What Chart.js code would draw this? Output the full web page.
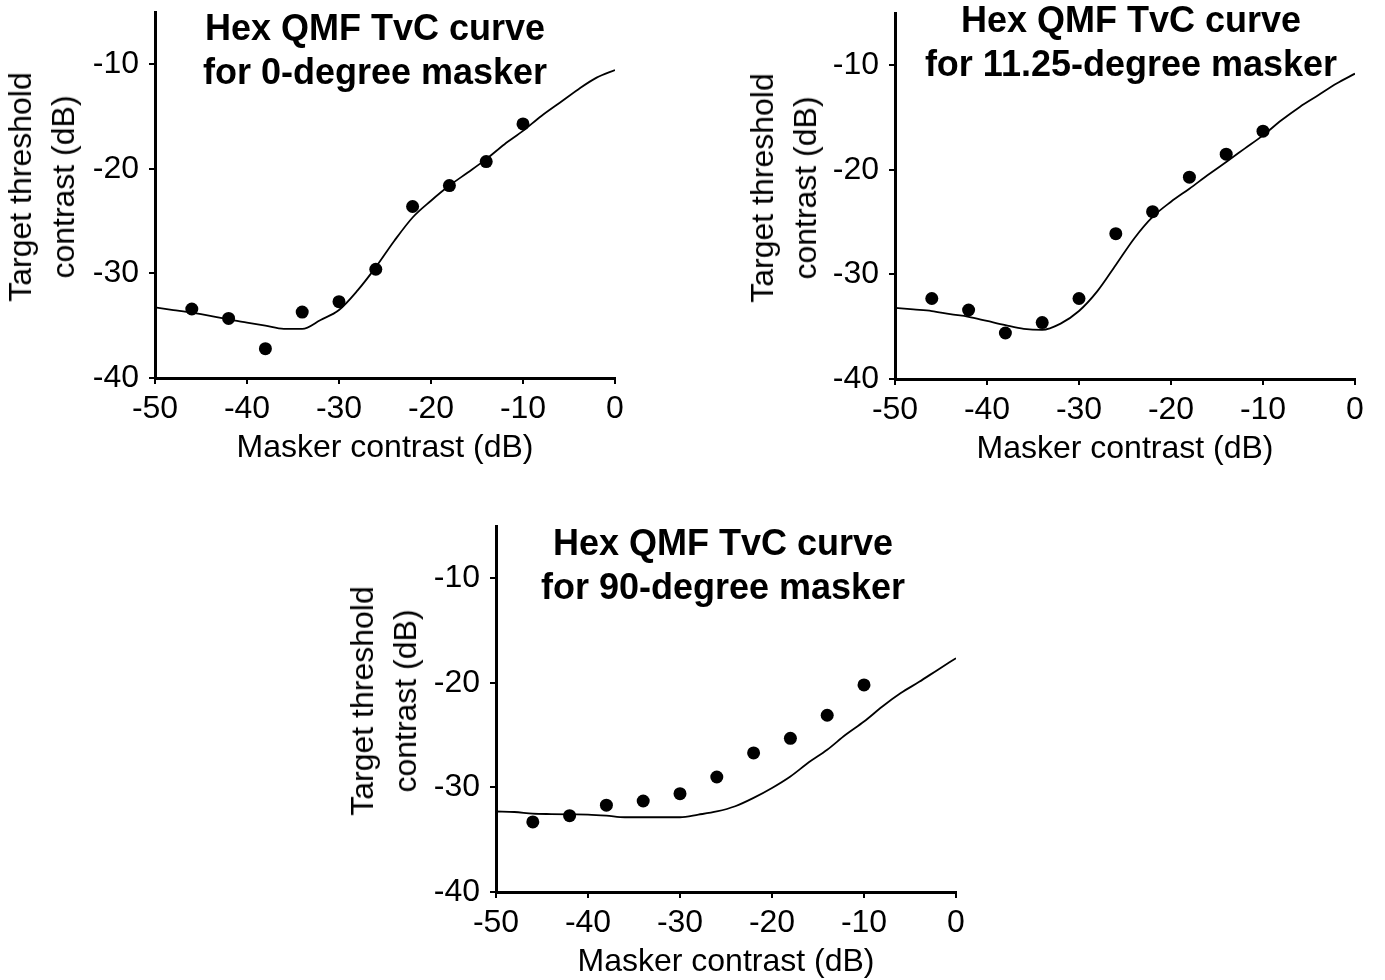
<!DOCTYPE html>
<html>
<head>
<meta charset="utf-8">
<script src="https://cdn.jsdelivr.net/npm/chart.js@4.4.1/dist/chart.umd.min.js"></script>
<style>
  html, body { margin: 0; padding: 0; background: #fff; }
  body { width: 1385px; height: 980px; position: relative; overflow: hidden; font-family: 'Liberation Sans', Arial, sans-serif; }
  .panel { position: absolute; width: 640px; height: 470px; }
  .title { position: absolute; font-weight: bold; font-size: 36px; line-height: 44px; text-align: center; white-space: nowrap; transform: translateX(-50%); color: #000; }
  .ytitle { position: absolute; font-size: 32px; line-height: 43px; text-align: center; white-space: nowrap; color: #000;
            transform: translate(-50%, -50%) rotate(-90deg); }
</style>
</head>
<body>
<div class="panel" style="left:0;top:0"><canvas id="chart0"></canvas></div>
<div class="panel" style="left:740px;top:1px"><canvas id="chart1"></canvas></div>
<div class="panel" style="left:341px;top:514px"><canvas id="chart2"></canvas></div>

<div class="title" style="left:375px;top:6px">Hex QMF TvC curve<br>for 0-degree masker</div>
<div class="title" style="left:1131px;top:-2px">Hex QMF TvC curve<br>for 11.25-degree masker</div>
<div class="title" style="left:723px;top:521px">Hex QMF TvC curve<br>for 90-degree masker</div>

<div class="ytitle" style="left:42px;top:187px">Target threshold<br>contrast (dB)</div>
<div class="ytitle" style="left:784px;top:188px">Target threshold<br>contrast (dB)</div>
<div class="ytitle" style="left:384px;top:701px">Target threshold<br>contrast (dB)</div>

<script>
// masker contrasts of the measured thresholds (dB)
const maskerContrast = [-46, -42, -38, -34, -30, -26, -22, -18, -14, -10];
// measured target thresholds (dB)
const data0deg = [-33.4, -34.3, -37.2, -33.7, -32.7, -29.6, -23.6, -21.6, -19.3, -15.7];
const data11deg = [-32.3, -33.4, -35.6, -34.6, -32.3, -26.1, -24.0, -20.7, -18.5, -16.3];
const data90deg = [-33.3, -32.7, -31.7, -31.3, -30.6, -29.0, -26.7, -25.3, -23.1, -20.2];

// model curve, sampled every 2 dB of masker contrast
const curveX = [-50, -48, -46, -44, -42, -40, -38, -36, -34, -32, -30, -28, -26,
  -24, -22, -20, -18, -16, -14, -12, -10, -8, -6, -4, -2, 0];
const model0deg = [-33.25, -33.5, -33.75, -34.05, -34.4, -34.7, -35.0, -35.3, -35.3, -34.45, -33.5, -31.65, -29.4,
  -26.9, -24.65, -23.05, -21.6, -20.35, -19.07, -17.64, -16.37, -14.94, -13.67, -12.4, -11.28, -10.55];
const model11deg = [-33.2, -33.35, -33.5, -33.8, -34.05, -34.45, -34.85, -35.2, -35.3, -34.7, -33.5, -31.6, -29.1,
  -26.56, -24.5, -23.05, -21.8, -20.5, -19.24, -17.97, -16.7, -15.26, -13.98, -12.87, -11.75, -10.8];
const model90deg = [-32.3, -32.35, -32.5, -32.55, -32.58, -32.6, -32.7, -32.85, -32.85, -32.85, -32.85, -32.6, -32.3,
  -31.8, -31.0, -30.05, -28.95, -27.6, -26.4, -24.97, -23.7, -22.26, -20.98, -19.9, -18.76, -17.64];

const xTicks = [-50, -40, -30, -20, -10, 0];
const yTicks = [-40, -30, -20, -10];

Chart.defaults.font.family = "'Liberation Sans', Arial, sans-serif";
Chart.defaults.color = '#000';

function toPoints(xs, ys) {
  return xs.map((x, i) => ({ x: x, y: ys[i] }));
}

function makeChart(id, measured, model) {
  const ctx = document.getElementById(id).getContext('2d');
  return new Chart(ctx, {
    type: 'scatter',
    data: {
      datasets: [
        {
          label: 'model',
          data: toPoints(curveX, model),
          showLine: true,
          borderColor: '#000',
          borderWidth: 1.8,
          pointRadius: 0,
          cubicInterpolationMode: 'monotone'
        },
        {
          label: 'data',
          data: toPoints(maskerContrast, measured),
          pointRadius: 6.5,
          backgroundColor: '#000',
          borderWidth: 0
        }
      ]
    },
    options: {
      responsive: true,
      maintainAspectRatio: false,
      animation: false,
      layout: { padding: { top: 12, right: 25, left: 0, bottom: 0 } },
      plugins: { legend: { display: false }, tooltip: { enabled: false } },
      scales: {
        x: {
          type: 'linear',
          min: -50,
          max: 0,
          afterBuildTicks: (s) => { s.ticks = xTicks.map(v => ({ value: v })); },
          afterFit: (s) => { s.height = 92; s.paddingLeft = 0; s.paddingRight = 0; },
          ticks: { font: { size: 32 }, padding: 6, maxRotation: 0 },
          grid: { drawOnChartArea: false, tickLength: 6, color: '#000', lineWidth: 2 },
          border: { color: '#000', width: 3 },
          title: { display: true, text: 'Masker contrast (dB)', font: { size: 32 }, padding: { top: 0, bottom: 3 } }
        },
        y: {
          type: 'linear',
          min: -40,
          max: -5,
          afterBuildTicks: (s) => { s.ticks = yTicks.map(v => ({ value: v })); },
          afterFit: (s) => { s.width = 155; s.paddingTop = 0; s.paddingBottom = 0; },
          ticks: { font: { size: 32 }, padding: 10 },
          grid: { drawOnChartArea: false, tickLength: 6, color: '#000', lineWidth: 2 },
          border: { color: '#000', width: 3 }
        }
      }
    }
  });
}

makeChart('chart0', data0deg, model0deg);
makeChart('chart1', data11deg, model11deg);
makeChart('chart2', data90deg, model90deg);
</script>
</body>
</html>
